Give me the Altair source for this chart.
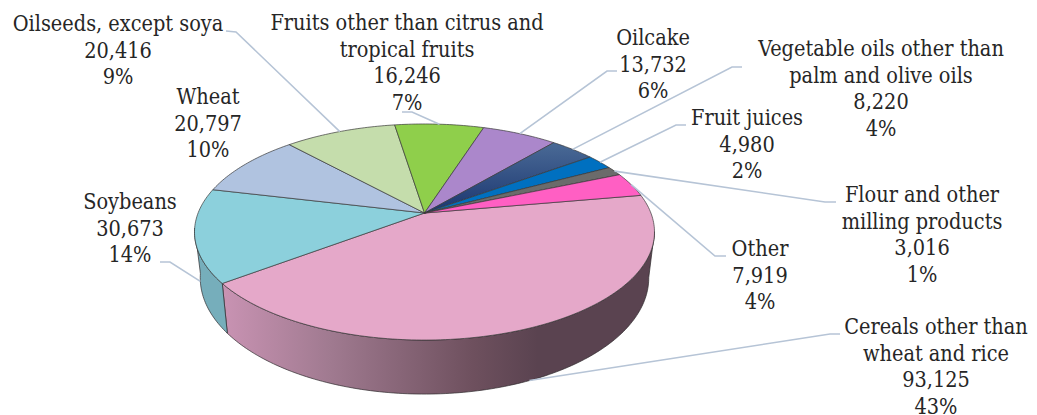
import math
import altair as alt
import pandas as pd

# ---- chart values (clockwise from the pink slice)
names = ["Cereals other than\nwheat and rice", "Soybeans", "Wheat", "Oilseeds, except soya",
         "Fruits other than citrus and\ntropical fruits", "Oilcake",
         "Vegetable oils other than\npalm and olive oils", "Fruit juices",
         "Flour and other\nmilling products", "Other"]
values = [93125, 30673, 20797, 20416, 16246, 13732, 8220, 4980, 3016, 7919]
percents = [43, 14, 10, 9, 7, 6, 4, 2, 1, 4]


def grad(x2, y2, stops):
    return alt.LinearGradient(gradient="linear", x1=0, y1=0, x2=x2, y2=y2,
                              stops=[alt.GradientStop(color=c, offset=o) for o, c in stops])


# ---- styles and layout, separate from the data
top_fill = ["#E5A8C9", "#8CD0DC", "#B0C3E0", "#C5DDAC", "#8FCF4B", "#AB87CB",
            grad(0, 1, [(0, "#4A6A96"), (1, "#1B3670")]),
            "#0070C0", "#6B6B6B", "#FF5FC3"]
# label anchor (centre x, first-line baseline) and leader elbow (start, elbow) per slice
label_pos = [(936, 334), (130, 209), (208, 104), (118, 31), (407, 30),
             (653, 45), (881, 56), (747, 125), (922, 202), (760, 256)]
leader_el = [((840, 334), (830, 334)), ((160, 262), (170, 262)), None,
             ((226, 31), (236, 32)), ((402, 112), (412, 112)),
             ((617, 71), (607, 71)), ((742, 67), (732, 67)),
             ((686, 125), (676, 125)), ((836, 202), (825, 202)),
             ((726, 256), (715, 256))]
leader_lower = [True, True, False, False, False, False, False, False, False, False]

FONT = "DejaVu Serif Condensed"
FS = 21.5
CX, AY, R, Q, P, DEPTH, SHRINK, START = 424.5, 213, 226.4, 104.7, 0.176, 44.5, 0.975, 80.0


def project(deg, lower=False):
    t = math.radians(deg)
    u, v = math.sin(t), math.cos(t)
    d = 1 + P * v
    x = R * u / d
    y = -Q * v / d
    if lower:
        return CX + x * SHRINK, AY + y + DEPTH / d
    return CX + x, AY + y


total = sum(values)
bounds = [START]
for val in values:
    bounds.append(bounds[-1] + val / total * 360)

xs = alt.Scale(domain=[8, 1029], nice=False, zero=False)
ys = alt.Scale(domain=[415, 8], nice=False, zero=False)


def poly(pts, **mark):
    df = pd.DataFrame({"x": [p[0] for p in pts], "y": [p[1] for p in pts], "i": range(len(pts))})
    return alt.Chart(df).mark_line(interpolate="linear", clip=False, **mark).encode(
        x=alt.X("x:Q", scale=xs, axis=None),
        y=alt.Y("y:Q", scale=ys, axis=None),
        order="i:Q",
    )


def arc(a, b, lower=False):
    n = max(2, int(abs(b - a) / 1.0))
    return [project(a + (b - a) * k / n, lower) for k in range(n + 1)]


layers = []

# side wall: only the front part of the two lower slices shows
side_pink = grad(1, 0, [(0, "#C993B3"), (0.25, "#A07A90"), (0.58, "#6E505E"),
                        (0.73, "#5A4350"), (1, "#5A4350")])
for a, b, fill in [(100.0, bounds[1], side_pink), (bounds[1], 262.0, "#76AEBB")]:
    pts = arc(a, b) + arc(b, a, True)
    pts.append(pts[0])
    layers.append(poly(pts, fill=fill, stroke="#2E2A2C", strokeWidth=0.7))

# top face
for i in range(len(values)):
    pts = [(CX, AY)] + arc(bounds[i], bounds[i + 1]) + [(CX, AY)]
    layers.append(poly(pts, fill=top_fill[i], stroke="#3A3A3A", strokeWidth=0.7))

# leaders end on the middle of each slice's rim
for i, el in enumerate(leader_el):
    if el is None:
        continue
    end = project((bounds[i] + bounds[i + 1]) / 2, leader_lower[i])
    layers.append(poly([el[0], el[1], end], stroke="#B6C4D6", strokeWidth=1.6))

# labels
for i, name in enumerate(names):
    txt = f"{name}\n{values[i]:,}\n{percents[i]}%"
    df = pd.DataFrame({"t": [txt]})
    layers.append(alt.Chart(df).mark_text(
        font=FONT, fontSize=FS, color="#262626", lineBreak="\n", lineHeight=26.6,
        align="center", baseline="alphabetic",
    ).encode(x=alt.value(label_pos[i][0] - 8), y=alt.value(label_pos[i][1] - 8), text="t:N"))

chart = alt.layer(*layers).properties(
    width=1021, height=407, padding=0, autosize=alt.AutoSizeParams(type="none"),
    background="white",
).configure_view(stroke=None)

chart.save("out.html", embed_options={"renderer": "svg", "actions": False})
